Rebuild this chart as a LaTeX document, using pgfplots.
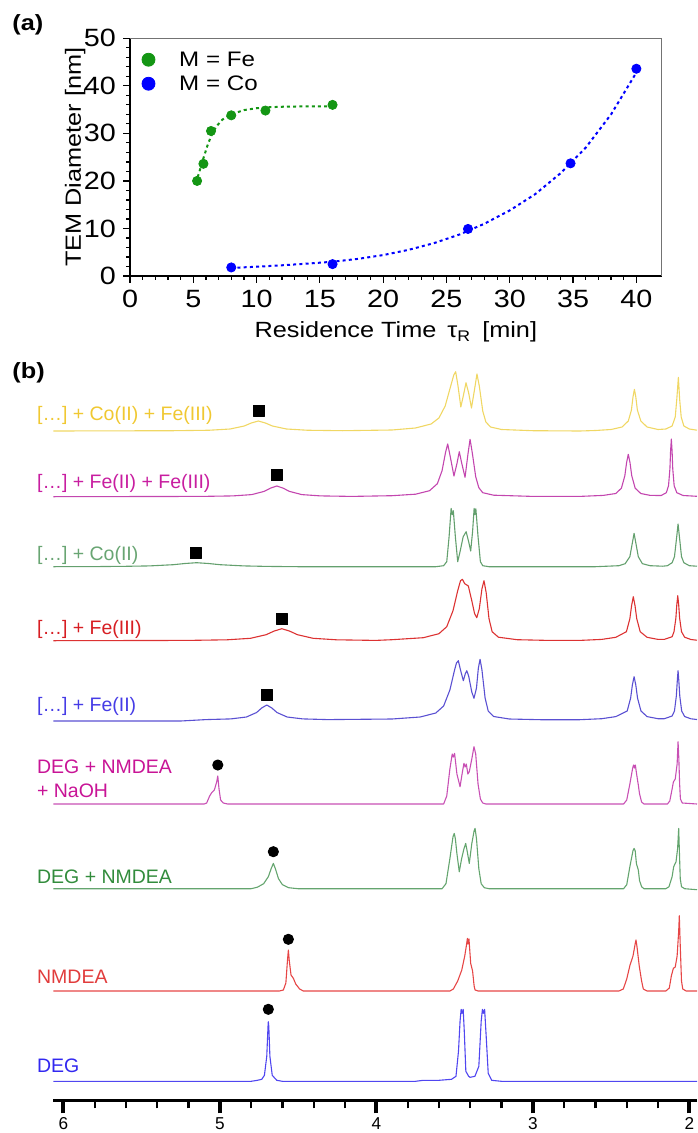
\documentclass[border=0pt]{standalone}
\usepackage{fontspec}
\setmainfont{Liberation Sans}
\newfontfamily\widefont[FakeStretch=1.15]{Liberation Sans}
\usepackage{pgfplots}
\pgfplotsset{compat=1.18}

\definecolor{feGreen}{RGB}{20,150,20}
\definecolor{coBlue}{RGB}{0,0,255}
\definecolor{c1lab}{RGB}{240,200,50}  \definecolor{c1}{RGB}{240,215,100}
\definecolor{c2lab}{RGB}{200,30,160}  \definecolor{c2}{RGB}{195,70,175}
\definecolor{c3lab}{RGB}{105,165,115} \definecolor{c3}{RGB}{100,160,110}
\definecolor{c4lab}{RGB}{215,30,35}   \definecolor{c4}{RGB}{220,50,50}
\definecolor{c5lab}{RGB}{70,60,230}   \definecolor{c5}{RGB}{90,80,210}
\definecolor{c6lab}{RGB}{200,20,150}  \definecolor{c6}{RGB}{200,80,180}
\definecolor{c7lab}{RGB}{50,140,60}   \definecolor{c7}{RGB}{100,165,110}
\definecolor{c8lab}{RGB}{225,60,60}   \definecolor{c8}{RGB}{230,70,70}
\definecolor{c9lab}{RGB}{50,40,240}   \definecolor{c9}{RGB}{80,70,240}

\begin{document}
\begin{tikzpicture}
\path[use as bounding box] (0,0) rectangle (348.5pt,-566.5pt);

% ---------------- (a) TEM diameter vs residence time
\begin{axis}[
  scale only axis, width=265.85pt, height=118.85pt,
  at={(65pt,-138pt)}, anchor=south west,
  xmin=0, xmax=42, ymin=0, ymax=50,
  xtick={0,5,...,40}, ytick={0,10,...,50},
  minor x tick num=4, minor y tick num=4,
  axis x line*=bottom, axis y line*=left,
  x axis line style={-}, y axis line style={-},
  axis line style={line width=0.7pt},
  tick align=outside, major tick length=3.5pt, minor tick length=1.8pt,
  tick style={black, line width=0.6pt},
  ticklabel style={font=\widefont\fontsize{12.5}{14}\selectfont},
  /pgf/number format/assume math mode=true,
  xlabel={Residence Time\enspace τ\textsubscript{R}\enspace [min]},
  ylabel={TEM Diameter [nm]},
  label style={font=\widefont\fontsize{11}{13}\selectfont},
  xlabel style={at={(axis description cs:0.5,-0.26)}, anchor=base},
  ylabel style={at={(axis description cs:-0.083,0.5)}, anchor=south, inner sep=0pt},
  legend style={draw=none, fill=none, at={(axis description cs:0,1)}, anchor=north west,
    font=\widefont\fontsize{10.5}{12}\selectfont, inner sep=0pt, column sep=0pt,
    nodes={inner sep=0pt, text height=8pt, text depth=2pt}, row sep=2pt,
    yshift=-6pt},
  legend cell align=left,
  clip=false,
]
% Fe fit
\addplot[feGreen, line width=1pt, dash pattern=on 1.5pt off 1.6pt, forget plot] coordinates {
  (5.35,20.8) (5.6,23) (5.85,25.2) (6.1,27.3) (6.4,29.4) (6.8,31.4) (7.3,32.9)
  (8,34.0) (9,34.9) (10,35.3) (11,35.5) (12,35.6) (14,35.7) (15.8,35.7)
};
\addplot[only marks, mark=*, mark size=2.3pt, feGreen,
  legend image code/.code={\fill[feGreen] (8.85pt,0.5pt) circle (3.25pt); \path (0pt,0pt) (24pt,0pt);}]
  coordinates {(5.3,20.0) (5.8,23.6) (6.4,30.5) (8.0,33.8) (10.7,34.8) (16.0,36.0)};
\addlegendentry{M = Fe}
% Co fit
\addplot[coBlue, line width=1pt, dash pattern=on 1.5pt off 1.6pt, forget plot] coordinates {
  (8,1.7) (10,1.95) (12,2.25) (14,2.6) (16,3.0) (18,3.6) (20,4.4) (22,5.5) (24,6.9)
  (26,8.7) (28,11.0) (30,13.8) (32,17.2) (34,21.6) (36,27.0) (38,34.0) (40,42.8)
};
\addplot[only marks, mark=*, mark size=2.3pt, coBlue,
  legend image code/.code={\fill[coBlue] (8.85pt,0.5pt) circle (3.25pt); \path (0pt,0pt) (24pt,0pt);}]
  coordinates {(8,1.8) (16,2.5) (26.7,9.9) (34.8,23.7) (40,43.6)};
\addlegendentry{M = Co}
\draw[black!55, line width=0.7pt] (rel axis cs:0,1) -- (rel axis cs:1,1) -- (rel axis cs:1,0);
\end{axis}

% ---------------- (b) stacked 1H NMR spectra
\begin{axis}[
  scale only axis, width=321.85pt, height=370pt,
  at={(26.65pt,-550.35pt)}, anchor=south west,
  xmin=1.951, xmax=6.064, ymin=0, ymax=740, x dir=reverse,
  axis x line*=bottom, axis y line=none, x axis line style={-},
  axis line style={line width=1.65pt},
  xtick={2,3,4,5,6}, minor x tick num=4, ytick=\empty,
  tick align=outside, major tick length=6.3pt, minor tick length=3.8pt,
  major tick style={line width=2.1pt, black}, minor tick style={line width=1.1pt, black},
  xticklabel style={font=\fontsize{8.6}{10}\selectfont, yshift=1.2pt},
  /pgf/number format/assume math mode=true,
  clip=false,
  every axis plot/.append style={line width=0.55pt, line join=round},
]
% [...] + Co(II) + Fe(III)
\addplot[c1] table[header=false, row sep=\\, y expr=\thisrowno{1}+669.7] {
6.064 0\\ 5.294 0.3\\ 5.069 0.75\\ 4.934 2\\ 4.844 5\\ 4.799 8\\ 4.754 10\\ 4.709 8\\ 4.664 5\\
4.574 2\\ 4.439 0.75\\ 4.214 0.3\\ 3.9 1\\ 3.75 3\\ 3.65 7\\ 3.60 13\\ 3.56 25\\ 3.53 42\\
3.505 56\\ 3.493 59.3\\ 3.478 45\\ 3.46 24\\ 3.443 36\\ 3.427 48.3\\ 3.41 38\\ 3.392 23\\
3.372 42\\ 3.357 57\\ 3.342 45\\ 3.32 20\\ 3.30 9\\ 3.27 4\\ 3.2 1.5\\ 3.0 0.3\\ 2.7 0\\
2.6 0.5\\ 2.5 1.5\\ 2.43 4\\ 2.39 10\\ 2.37 21\\ 2.36 34\\ 2.351 41.7\\ 2.342 34\\ 2.332 21\\
2.31 10\\ 2.27 4\\ 2.2 1.5\\ 2.15 2\\ 2.11 5\\ 2.09 14\\ 2.08 32\\ 2.07 53.7\\ 2.062 32\\
2.052 14\\ 2.035 5\\ 2.0 2\\ 1.951 0.8\\
};
% [...] + Fe(II) + Fe(III)
\addplot[c2] table[header=false, row sep=\\, y expr=\thisrowno{1}+604] {
6.064 0\\ 5.116 0.3\\ 4.916 0.8\\ 4.796 2.1\\ 4.716 5.35\\ 4.676 8.6\\ 4.636 10.7\\ 4.596 8.6\\
4.556 5.35\\ 4.476 2.1\\ 4.356 0.8\\ 4.156 0.3\\ 3.9 1\\ 3.75 2.5\\ 3.66 6\\ 3.61 13\\ 3.58 26\\
3.558 44\\ 3.544 52.7\\ 3.53 42\\ 3.504 20.7\\ 3.485 33\\ 3.470 45\\ 3.455 34\\ 3.433 19.4\\
3.415 42\\ 3.401 57.4\\ 3.387 44\\ 3.365 20\\ 3.345 9\\ 3.32 4\\ 3.25 1.5\\ 3.0 0.3\\ 2.7 0.3\\
2.55 1.3\\ 2.47 3.2\\ 2.434 8.5\\ 2.412 21\\ 2.401 34\\ 2.390 42.4\\ 2.379 34\\ 2.368 21\\
2.346 8.5\\ 2.31 3.2\\ 2.25 1.3\\ 2.18 1.2\\ 2.147 4\\ 2.133 11\\ 2.124 28\\ 2.120 45\\
2.115 57.7\\ 2.110 45\\ 2.106 28\\ 2.097 11\\ 2.08 4\\ 2.04 1.2\\ 1.951 0.4\\
};
% [...] + Co(II)
\addplot[c3] table[header=false, row sep=\\, y expr=\thisrowno{1}+534] {
6.064 0\\ 5.8 0.1\\ 5.6 0.4\\ 5.448 0.8\\ 5.298 2\\ 5.223 3.2\\ 5.148 4\\ 5.073 3.2\\ 4.998 2\\
4.848 0.8\\ 4.7 0.3\\ 4.5 0\\ 3.62 0\\ 3.57 1\\ 3.55 5\\ 3.535 30\\ 3.522 58.4\\ 3.515 52\\
3.508 56\\ 3.495 30\\ 3.48 5\\ 3.465 15\\ 3.445 30\\ 3.426 35\\ 3.41 25\\ 3.397 15.7\\
3.385 35\\ 3.375 58.4\\ 3.370 52\\ 3.364 58\\ 3.35 30\\ 3.335 5\\ 3.32 1\\ 3.28 0\\ 2.6 0\\
2.45 1\\ 2.41 3\\ 2.38 10\\ 2.365 23\\ 2.353 33.4\\ 2.341 23\\ 2.326 10\\ 2.30 3\\ 2.25 1\\
2.17 0.5\\ 2.14 1\\ 2.11 4\\ 2.095 10\\ 2.082 28\\ 2.072 42.7\\ 2.062 28\\ 2.05 10\\ 2.035 4\\
2.0 1\\ 1.951 0.5\\
};
% [...] + Fe(III)
\addplot[c4] table[header=false, row sep=\\, y expr=\thisrowno{1}+460] {
6.064 0\\ 5.204 0.3\\ 4.954 0.9\\ 4.804 2.4\\ 4.704 6\\ 4.654 9.6\\ 4.604 12\\ 4.554 9.6\\
4.504 6\\ 4.404 2.4\\ 4.254 0.9\\ 4.004 0.3\\ 3.9 1\\ 3.7 3\\ 3.6 7\\ 3.55 14\\ 3.51 30\\
3.48 50\\ 3.462 60\\ 3.450 61.4\\ 3.435 57\\ 3.412 54.7\\ 3.39 40\\ 3.372 27\\ 3.358 23\\
3.342 32\\ 3.325 52\\ 3.312 60\\ 3.298 48\\ 3.28 22\\ 3.26 9\\ 3.22 3.5\\ 3.1 1\\ 2.9 0.3\\
2.7 0.3\\ 2.56 1.3\\ 2.47 3.4\\ 2.402 9\\ 2.38 22\\ 2.369 35\\ 2.358 44\\ 2.347 35\\ 2.336 22\\
2.314 9\\ 2.27 3.4\\ 2.2 1.3\\ 2.16 1.3\\ 2.11 4\\ 2.098 9\\ 2.086 22.5\\ 2.080 36\\ 2.074 45\\
2.068 36\\ 2.062 22.5\\ 2.05 9\\ 2.03 3.5\\ 1.99 1.2\\ 1.951 0.5\\
};
% [...] + Fe(II)
\addplot[c5] table[header=false, row sep=\\, y expr=\thisrowno{1}+380.7] {
6.064 -1\\ 5.25 -1\\ 5.09 0.4\\ 4.93 1.1\\ 4.83 3\\ 4.765 7.5\\ 4.7325 12\\ 4.70 15\\
4.6675 12\\ 4.635 7.5\\ 4.57 3\\ 4.47 1.1\\ 4.31 0.4\\ 3.9 1\\ 3.72 3\\ 3.62 7\\ 3.57 14\\
3.53 30\\ 3.50 50\\ 3.488 57\\ 3.476 59.3\\ 3.462 50\\ 3.444 39.3\\ 3.432 46\\ 3.422 49.3\\
3.41 44\\ 3.39 28\\ 3.376 21.7\\ 3.36 32\\ 3.348 52\\ 3.337 60.7\\ 3.325 50\\ 3.305 22\\
3.285 9\\ 3.25 3.5\\ 3.15 1\\ 2.95 0.3\\ 2.7 0.3\\ 2.56 1.3\\ 2.47 3.4\\ 2.397 9\\ 2.375 22\\
2.364 35\\ 2.353 43.3\\ 2.342 35\\ 2.331 22\\ 2.309 9\\ 2.27 3.4\\ 2.2 1.3\\ 2.16 1.3\\
2.11 4\\ 2.095 9\\ 2.083 24\\ 2.077 39\\ 2.072 49.3\\ 2.067 39\\ 2.061 24\\ 2.049 9\\
2.03 3.5\\ 1.99 1.2\\ 1.951 0.5\\
};
% DEG + NMDEA + NaOH
\addplot[c6] table[header=false, row sep=\\, y expr=\thisrowno{1}+296.7] {
6.064 0\\ 5.10 0\\ 5.084 1\\ 5.065 8\\ 5.052 11.3\\ 5.035 14\\ 5.02 22\\ 5.013 28\\ 5.005 15\\
4.995 4\\ 4.978 1\\ 4.95 0\\ 3.57 0\\ 3.55 8\\ 3.53 35\\ 3.515 50\\ 3.508 47\\ 3.50 50.7\\
3.485 30\\ 3.465 17.3\\ 3.45 32\\ 3.44 40.7\\ 3.433 37\\ 3.425 40\\ 3.415 30\\ 3.406 32.3\\
3.39 45\\ 3.376 57.3\\ 3.365 50\\ 3.35 20\\ 3.335 5\\ 3.32 1\\ 3.3 0\\ 2.42 0\\ 2.40 4\\
2.38 20\\ 2.362 36\\ 2.356 39\\ 2.35 36\\ 2.345 39\\ 2.335 28\\ 2.326 19\\ 2.318 10\\
2.305 2\\ 2.29 0\\ 2.14 0\\ 2.125 3\\ 2.11 15\\ 2.102 22\\ 2.09 25\\ 2.078 40\\ 2.072 62.3\\
2.067 45\\ 2.062 20\\ 2.057 5\\ 2.045 1\\ 1.951 0\\
};
% DEG + NMDEA
\addplot[c7] table[header=false, row sep=\\, y expr=\thisrowno{1}+212] {
6.064 0\\ 4.8 0\\ 4.76 1.5\\ 4.72 5\\ 4.69 12\\ 4.672 20\\ 4.658 25.3\\ 4.645 20\\ 4.625 10\\
4.60 4\\ 4.56 1\\ 4.5 0\\ 3.58 0\\ 3.555 5\\ 3.53 30\\ 3.51 52\\ 3.502 55.3\\ 3.495 50\\
3.485 35\\ 3.47 17\\ 3.455 30\\ 3.44 40\\ 3.429 45.3\\ 3.42 38\\ 3.406 25.3\\ 3.39 45\\
3.375 58\\ 3.369 60.3\\ 3.36 50\\ 3.345 20\\ 3.33 5\\ 3.31 1\\ 3.28 0\\ 2.42 0\\ 2.40 4\\
2.38 22\\ 2.36 38\\ 2.353 40.3\\ 2.346 38\\ 2.338 25\\ 2.326 18.7\\ 2.318 8\\ 2.305 2\\
2.29 0\\ 2.15 0\\ 2.13 2\\ 2.11 12\\ 2.10 22\\ 2.085 27\\ 2.075 40\\ 2.068 60.3\\ 2.063 35\\
2.058 10\\ 2.05 2\\ 2.03 0\\ 1.951 -1\\
};
% NMDEA
\addplot[c8] table[header=false, row sep=\\, y expr=\thisrowno{1}+109.7] {
6.064 0\\ 4.62 0\\ 4.594 1\\ 4.578 8\\ 4.568 30\\ 4.562 41\\ 4.556 30\\ 4.545 16\\ 4.530 12.7\\
4.515 7\\ 4.49 2\\ 4.466 0\\ 3.53 0\\ 3.508 2\\ 3.48 10\\ 3.454 21\\ 3.435 35\\ 3.425 45\\
3.418 52.7\\ 3.414 47\\ 3.408 52\\ 3.397 27.7\\ 3.385 20\\ 3.375 5\\ 3.369 1\\ 3.35 0\\
2.45 0\\ 2.422 2\\ 2.40 12\\ 2.379 26\\ 2.36 35\\ 2.345 48\\ 2.341 51\\ 2.335 45\\ 2.32 25\\
2.305 10\\ 2.294 2\\ 2.27 0\\ 2.15 0\\ 2.128 3\\ 2.115 15\\ 2.102 22.7\\ 2.09 24\\ 2.078 35\\
2.068 60\\ 2.064 75.3\\ 2.058 45\\ 2.05 10\\ 2.042 2\\ 2.02 0\\ 1.951 0\\
};
% DEG
\addplot[c9] table[header=false, row sep=\\, y expr=\thisrowno{1}+19.4] {
6.064 0\\ 4.80 0\\ 4.76 1\\ 4.732 2\\ 4.715 6\\ 4.70 25\\ 4.692 55\\ 4.690 59.6\\ 4.687 55\\
4.68 25\\ 4.665 6\\ 4.636 1\\ 4.60 0\\ 3.75 0\\ 3.70 1\\ 3.6 1\\ 3.52 2\\ 3.491 5\\ 3.475 30\\
3.465 60\\ 3.458 72\\ 3.452 68\\ 3.445 72\\ 3.438 50\\ 3.428 10\\ 3.41 5\\ 3.401 4\\ 3.37 5\\
3.345 15\\ 3.33 60\\ 3.322 72\\ 3.315 68\\ 3.308 72\\ 3.298 45\\ 3.285 8\\ 3.263 1\\ 3.2 0\\
1.951 0\\
};
% markers: squares (metal complexes) and circles (free OH)
\addplot[only marks, mark=square*, mark size=2.75pt, black] coordinates {
  (4.748,690) (4.636,625.4) (5.154,547.4) (4.600,481.4) (4.696,405.7)};
\addplot[only marks, mark=*, mark size=2.5pt, black] coordinates {
  (5.013,335.7) (4.658,249) (4.562,161.4) (4.690,91.4)};
\end{axis}

% ---------------- labels (pixel coordinates)
\begin{scope}[x=0.5pt, y=-0.5pt, every node/.style={anchor=base west, inner sep=0pt}]
\node[font=\widefont\bfseries\fontsize{11}{12}\selectfont] at (12,31) {(a)};
\node[font=\widefont\bfseries\fontsize{11}{12}\selectfont] at (12,379) {(b)};
\begin{scope}[every node/.append style={font=\fontsize{9.75}{11.7}\selectfont}]
\node[c1lab] at (36.7,420.7) {[…] + Co(II) + Fe(III)};
\node[c2lab] at (36.7,488.5) {[…] + Fe(II) + Fe(III)};
\node[c3lab] at (36.7,560.7) {[…] + Co(II)};
\node[c4lab] at (36.7,634) {[…] + Fe(III)};
\node[c5lab] at (36.7,711.5) {[…] + Fe(II)};
\node[c6lab] at (36.7,773) {DEG + NMDEA};
\node[c6lab] at (36.7,797) {+ NaOH};
\node[c7lab] at (36.7,883) {DEG + NMDEA};
\node[c8lab] at (36.7,983) {NMDEA};
\node[c9lab] at (36.7,1072.5) {DEG};
\end{scope}
\end{scope}
\end{tikzpicture}
\end{document}
